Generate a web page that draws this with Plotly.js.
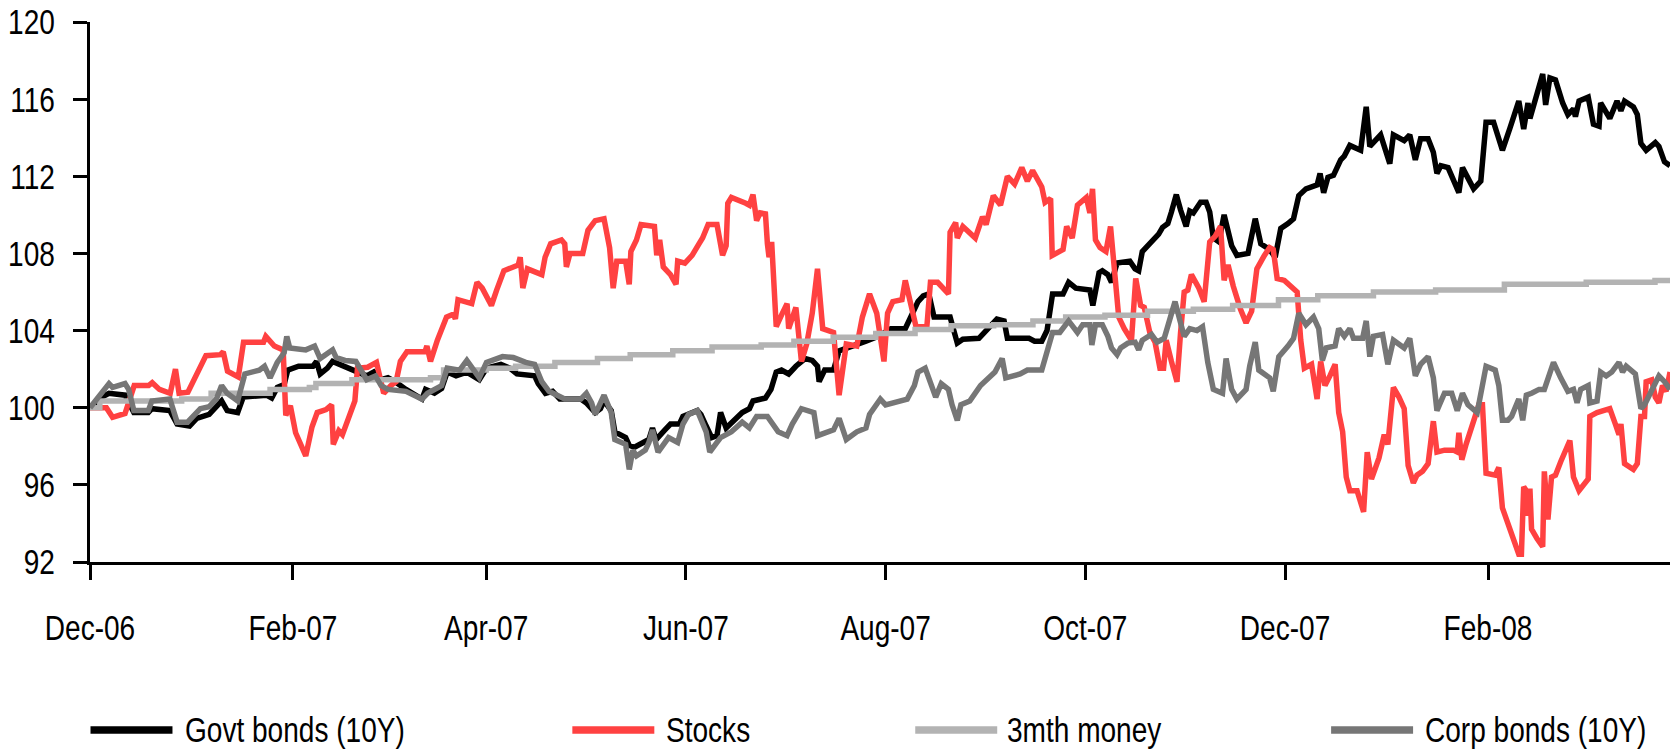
<!DOCTYPE html>
<html>
<head>
<meta charset="utf-8">
<script src="https://cdn.plot.ly/plotly-3.0.1.min.js"></script>
<style>
  html, body { margin: 0; padding: 0; background: #ffffff; }
  #chart { width: 1672px; height: 751px; }
</style>
</head>
<body>
<div id="chart"></div>
<script>
// ---------------- DATA (days after 1 Dec 2006, index values) ----------------
const baseDate = "2006-12-01";

const seriesNames = ["Govt bonds (10Y)", "Stocks", "3mth money", "Corp bonds (10Y)"];

const govtDays = [0,3.6,5.8,10.7,13.4,17.8,18.9,24.4,26.6,30.4,32.6,36.4,40.2,41.9,45.1,46.8,53.9,55.5,57.2,59.3,60.4,63.7,68.1,69.2,70.3,72.5,74.1,77.9,80.7,84.5,86.7,88.9,91,93.2,96.5,98.7,101.4,102.5,105.2,107.4,109.1,111.8,115.1,118.9,121.1,125.5,128.2,130.4,135.8,136.9,139.1,141.3,143.5,145,149.9,151.6,154.3,155.9,157,159.2,160.3,163.6,164.7,166.3,169.6,170.7,171.8,172.9,175.6,177.3,180,181.1,185.5,186.6,188.2,189.9,191.5,192.6,194.3,196.5,199.2,201.4,202.5,206.3,208,209.6,211.2,213.4,215.6,218.4,220.6,222.2,222.7,224.4,227.1,228.8,233.1,237,240.8,244.6,249,250.7,252.9,254.5,256.2,257.8,262.7,264.9,266.6,271.5,273.7,277,279.2,280.2,286.8,288.5,290.7,292.3,294,297.2,298.9,301.1,305.4,306.3,308.2,309.2,310.9,312,313.7,317.6,319.2,320.3,321.4,323.1,324.8,326.4,327.6,329.2,330.3,331.8,333.1,334.8,335.9,337,339.2,340.9,342,343.1,344.8,346.4,348.7,350.3,353.7,355.9,357.6,360.3,362,363.7,365.9,367.6,369.2,371.4,374.8,375.7,376.8,378.1,379.8,382,383.1,384.8,388.1,389.8,390.9,394.2,397,398.1,401.4,403.1,404.8,406.4,408.7,410.3,411.4,412.6,414.8,418.1,419.2,422.6,424.8,426.4,428.7,431.4,433.7,436.4,437.9,439.2,439.8,442,443.7,444.6,445.9,447.6,449.8,451.4,453.1,453.7,454.8,457.6,459.2,460.9,461.4,464.2,466.4,467.6,468.7,471.4,472.6,473.7,475.3,478.1,479.2,480.9,482.6];
const govtVals = [100,100.55,100.75,100.65,99.75,99.75,99.95,99.85,99.15,99.05,99.45,99.65,100.35,99.85,99.75,100.55,100.65,100.5,101.05,101.2,101.95,102.15,102.15,102.4,101.75,102.05,102.4,102.15,101.95,101.65,101.85,101.45,101.55,101.35,100.95,100.75,100.45,100.95,100.75,101.0,101.85,101.65,101.85,101.45,102.05,102.25,102.05,101.75,101.65,101.25,100.75,100.85,100.45,100.45,100.45,100.25,99.75,99.95,100.35,99.85,98.75,98.45,98.05,97.95,98.2,98.35,98.95,98.35,98.85,99.15,99.15,99.55,99.85,99.65,99.05,98.45,98.55,99.75,98.95,99.35,99.75,99.95,100.35,100.5,100.95,101.85,101.95,101.75,102.15,102.55,102.45,102.15,101.35,101.95,101.95,102.95,103.25,103.45,103.7,104.1,104.1,104.7,105.5,105.8,105.9,104.7,104.7,103.35,103.55,103.6,104.0,104.6,104.5,103.6,103.6,103.45,103.45,104.0,105.9,105.9,106.5,106.2,106.1,105.3,107.0,107.1,106.9,106.5,107.5,107.6,107.2,107.1,108.1,108.4,108.7,109.0,109.35,109.55,110.15,111.05,110.25,109.4,110.2,110.1,110.65,110.65,110.15,108.8,108.6,110.0,108.4,107.9,108.0,109.8,108.5,108.2,107.8,109.3,109.55,109.8,111.0,111.35,111.55,112.15,111.15,111.95,112.05,112.85,113.05,113.6,113.35,115.6,113.55,114.15,112.65,114.15,113.85,114.15,112.85,113.95,113.95,113.25,112.15,112.55,112.45,111.15,112.45,111.35,111.75,114.8,114.8,113.35,114.5,115.9,114.45,115.8,115.0,116.3,117.3,115.7,117.1,117.0,115.8,115.2,115.5,115.1,115.9,116.1,114.7,114.6,115.8,115.0,115.9,115.4,115.9,115.6,115.2,113.7,113.35,113.75,113.55,112.75,112.55];

const stockDays = [0,5,6.9,10.7,13.5,17.9,19,21.2,24.5,26.1,27.2,29.9,35.4,39.8,40.7,42,45.3,46.9,53,53.7,56.3,59,59.8,61.2,62.8,65.9,67.8,69.4,72.1,73.8,74.3,76,77.1,79.3,80.9,81.7,84.8,87.5,89.7,91.9,93.5,94.8,96.8,102.3,102.9,104,106.1,108.9,111,111.6,112.4,116.6,118.2,119.8,122.6,124.2,126.4,130.8,131.4,132.2,133.6,138,139,140.7,144,145,145.5,146.6,150.5,152.1,154.3,157,158.7,159.8,160.9,163.6,164.7,165.2,166.9,168.3,172.4,173.1,174,175.1,177.3,179,179.5,181.7,183.9,186,187.1,188.8,191.5,193.2,194.3,194.8,195.9,200.3,201.4,202.5,203.6,204.7,206.3,206.9,207.4,208.2,209.6,211.2,212.9,213.4,215.6,217.3,218.9,220.6,222.2,223.8,227.1,228.8,231,234.2,235.9,238.1,240.3,242.5,243.6,245.2,248,249,250.7,252.3,255.6,256.7,258.9,262.2,262.7,264.4,264.9,266.6,270.4,272.6,273.7,275.9,278.1,280.2,282.4,284.6,286.3,287.9,290.7,291.7,293.4,293.9,297.2,298.3,300,301.6,304.3,305.4,306.2,307.1,308.5,310.3,311.7,313.1,314.2,315.9,318.1,319.4,320.9,322,323.7,325.3,326.8,327.9,328.7,330.3,332,333.1,334.2,335.3,336.4,338.7,340.3,342,343.7,345.3,346.4,347.6,349.2,351.4,353.1,354.8,356.4,358.7,360.3,361.4,362.6,364.8,367.6,368.7,369.8,370.9,373.1,374.8,375.9,377.2,378.7,380.3,381.4,382.6,383.7,384.8,387,389,390.1,391.4,393.7,395.3,396.4,398.1,399.8,401.4,402.6,404.2,405.3,407,408.7,410.3,411.4,413.7,416.4,417.6,418.1,419,420.3,422,424.2,425.3,426.4,429.2,430.3,431.4,433.1,434.8,436.4,437.2,437.9,438.7,439.2,439.8,440.3,442,443.7,444.2,445.3,446.4,447.6,449.2,451.4,452,453.1,454.8,457.6,458.1,460.3,463.7,464.2,465.9,467,467.6,468.7,471.4,472.6,473.7,474.8,475.3,477,478.1,479.2,480.3,481.4,482.6];
const stockVals = [100,100,99.5,99.7,101.15,101.15,101.3,100.95,100.75,102.0,100.75,100.8,102.7,102.75,102.9,101.9,101.6,103.4,103.4,103.7,103.2,103.0,99.6,100.1,98.7,97.5,99.0,99.75,99.9,100.15,98.1,98.8,98.6,99.6,100.35,102.05,102.1,102.35,100.75,101.15,101.35,102.4,102.9,102.9,103.2,102.4,103.5,104.7,104.85,104.6,105.6,105.4,106.5,106.2,105.3,106.1,107.1,107.4,107.8,106.2,107.2,106.9,107.8,108.5,108.7,108.5,107.3,108.0,108.0,109.2,109.7,109.8,108.3,106.2,107.6,107.6,106.4,108.1,108.7,109.5,109.4,107.9,108.7,107.3,106.9,106.4,107.6,107.5,107.9,108.5,108.8,109.5,109.5,107.9,108.4,110.6,110.9,110.6,110.5,111.05,109.7,110.1,110.05,108.5,107.8,108.6,104.2,104.8,105.4,104.1,105.2,102.4,103.3,104.9,107.2,104.1,103.9,100.65,103.3,103.2,104.7,105.9,104.9,102.4,104.9,105.5,105.6,106.6,105.5,104.2,104.2,106.5,106.5,105.9,109.1,109.6,108.8,109.4,108.8,109.9,109.5,111.0,110.5,112.0,111.6,112.45,111.75,112.3,111.45,110.65,110.85,107.9,108.2,109.4,108.8,110.5,110.9,110.1,111.35,108.7,108.3,108.1,109.4,106.4,104.7,104.1,103.5,106.7,105.3,105.2,103.9,103.4,102.05,102.05,103.5,102.4,101.35,103.9,106.0,106.1,106.9,106.2,105.5,108.6,108.9,109.4,106.6,107.4,106.3,105.1,104.4,105.0,107.2,107.9,108.3,108.2,106.7,106.6,106.1,106.0,103.5,102.05,102.25,100.45,102.4,101.15,101.65,102.25,99.75,98.75,96.4,95.7,95.7,94.6,97.7,96.3,97.4,98.6,98.1,101.05,100.55,99.95,97.0,96.1,96.5,96.7,97.1,99.3,97.7,97.8,97.8,97.7,98.7,97.3,98.1,99.1,100.15,100.15,96.6,96.5,96.9,94.8,94.0,93.2,92.4,92.4,95.9,95.7,94.4,95.8,93.7,93.2,92.8,96.7,94.2,96.4,96.5,97.2,98.1,98.3,96.4,95.7,96.3,99.55,99.75,99.95,99.95,99.15,98.6,99.15,97.1,96.8,97.1,99.55,99.55,101.35,101.45,100.55,100.25,101.15,100.85,101.85];

const moneyDays = [0,3,28,37,55,67,69,80,104,108,121,130,142,155,165,178,190,205,215,227,240,252,263,276,288,298,310,323,337,349,363,375,392,411,432,457,478,482.6];
const moneyVals = [100.0,100.35,100.45,100.75,100.95,101.05,101.25,101.45,101.55,101.95,102.05,102.15,102.35,102.55,102.75,102.95,103.15,103.25,103.45,103.65,103.85,104.05,104.25,104.3,104.5,104.7,104.8,105.0,105.1,105.3,105.6,105.8,106.0,106.1,106.4,106.5,106.6,106.6];

const corpDays = [0,3.6,5.8,6.9,10.7,11.8,13.4,17.8,18.9,24.4,26.6,29.8,33.7,36.4,38.6,40.2,41.9,45.1,47.3,51.7,53.3,55,57.2,59.3,60.1,61,65.9,68.6,70.3,74.1,75.2,77.9,81.2,84.5,87.2,88.9,91,96.5,101.4,103.1,107.4,109.1,112.9,115.1,118.9,121.1,126,129.3,133.1,135.8,136.9,138,140.2,143.5,145,149.9,151.6,153.2,154.3,157,159.2,160.3,163.6,164.7,165.8,166.9,169.6,170.7,171.8,173.5,175.1,176.7,179.5,181.1,182.8,185.5,188.2,189.3,191.5,192.6,195.9,199.2,201.4,203.6,206.9,210.2,212.9,214.5,217.3,221.1,222.2,227.1,228.8,231,234.2,237,238.1,241.4,243,249.6,251.8,252.9,255.1,256.2,258.3,260,262.2,263.3,264.9,266,268.7,272,273.7,276.4,278.6,279.7,284.1,286.3,290.7,292.3,294,296.2,298.9,301.6,303.2,305.4,306,307.1,309.2,310.9,312,313.7,314.8,317,319.2,320.3,321.4,324.2,325.9,328.1,329.8,331.4,333.1,334.2,335.9,338.1,339.8,341.4,343.1,345.9,347,348.7,350.3,353.1,354.2,355.9,357,360.3,361.4,363.1,365.9,367.6,369.2,371.4,373.7,375.3,376.4,377.6,380.3,381.4,383.1,384.8,385.9,388.7,389.8,390.9,392,394.8,396.4,398.1,401.4,403.1,404.8,406.4,408.7,410.3,411.4,413.7,415.9,417.6,419.2,420.9,423.7,426.4,429.2,430.3,431.4,433.1,434.2,436.4,437.6,438.7,440.3,442.6,444.2,447,449.2,451.4,453.1,454.2,455.3,457.6,458.1,460.3,461.4,463.1,464.8,467,468.1,469.2,472,473.7,474.8,476.4,479.2,480.9,482.6];
const corpVals = [100,100.8,101.25,101.05,101.25,100.95,99.85,99.85,100.35,100.45,99.25,99.25,99.95,100.05,100.45,101.15,100.75,100.35,101.75,101.95,102.15,101.55,102.35,102.85,103.7,103.1,103.0,103.2,102.55,103.0,102.6,102.45,102.4,101.45,101.65,101.15,100.95,100.85,100.45,100.75,101.15,102.05,101.95,102.45,101.55,102.35,102.65,102.6,102.35,102.25,101.85,101.35,100.85,100.55,100.45,100.45,100.75,100.25,99.65,100.65,99.75,98.35,98.1,96.8,97.8,97.5,97.8,98.2,98.85,97.7,98.05,98.45,98.2,99.15,99.65,99.85,98.75,97.7,98.2,98.45,98.75,99.25,98.95,99.55,99.55,98.75,98.55,99.15,99.95,99.75,98.55,98.85,99.45,98.35,98.75,98.95,99.65,100.45,100.15,100.45,101.15,101.85,102.05,101.55,100.55,101.25,100.95,100.15,99.35,100.15,100.35,101.15,101.45,101.85,102.55,101.55,101.75,101.95,101.95,102.85,103.9,103.9,104.5,103.9,104.3,104.3,103.25,104.3,104.3,103.7,103.1,102.75,103.1,103.35,103.4,103.0,103.5,103.8,103.4,103.6,104.5,105.5,104.4,103.7,104.1,104.0,104.2,102.35,100.95,100.75,102.55,100.95,100.45,100.95,102.15,103.4,101.95,101.55,100.85,102.65,103.2,103.6,104.9,104.3,104.7,104.1,102.45,103.1,103.2,104.1,103.7,104.1,103.6,103.6,104.5,102.65,103.7,103.8,102.25,103.5,103.1,103.6,101.65,102.25,102.65,101.55,99.85,100.75,100.75,99.85,100.75,100.15,99.75,102.15,101.95,101.15,99.35,99.35,99.55,100.45,99.35,100.65,100.75,100.95,100.95,102.35,101.55,100.85,100.95,100.25,100.95,101.15,100.25,100.35,101.85,101.65,101.85,102.35,101.85,102.15,101.75,99.95,100.15,100.75,101.65,101.35,100.95];

const tickDates = ["2006-12-01","2007-02-01","2007-04-01","2007-06-01","2007-08-01","2007-10-01","2007-12-01","2008-02-01"];
const tickLabels = ["Dec-06","Feb-07","Apr-07","Jun-07","Aug-07","Oct-07","Dec-07","Feb-08"];
const yTicks = [92,96,100,104,108,112,116,120];

// ---------------- helpers ----------------
function toDates(days) {
  const b = Date.parse(baseDate + "T00:00:00Z");
  return days.map(d => {
    const t = new Date(b + d * 86400000);
    return t.toISOString().replace("T", " ").slice(0, 19);
  });
}

const FONT = "'Liberation Sans', Arial, sans-serif";
const FSIZE = 35.5;
const NARROW = 0.79;   // horizontal squeeze to imitate a narrow face
const colors = ["#000000", "#ff4141", "#b3b3b3", "#767676"];
const LW = 5.5;

const traces = [
  {x: toDates(govtDays), y: govtVals, name: seriesNames[0], line: {color: colors[0], width: LW}},
  {x: toDates(stockDays), y: stockVals, name: seriesNames[1], line: {color: colors[1], width: LW}},
  {x: toDates(moneyDays), y: moneyVals, name: seriesNames[2], line: {color: colors[2], width: LW, shape: "hv"}},
  {x: toDates(corpDays), y: corpVals, name: seriesNames[3], line: {color: colors[3], width: LW}}
].map(t => Object.assign({type: "scatter", mode: "lines", hoverinfo: "skip"}, t));

// plot geometry (pixels)
const W = 1672, H = 751;
const mL = 89.5, mR = 2, mT = 22, mB = 189;
const plotW = W - mL - mR, plotH = H - mT - mB;
const px2x = p => (p - mL) / plotW;
const py2y = p => (H - mB - p) / plotH;

// custom legend (long swatches like the original)
const legendY = 730;
const legendItems = [
  {x0: 90, x1: 172, tx: 183},
  {x0: 572, x1: 654, tx: 664},
  {x0: 915, x1: 997, tx: 1005},
  {x0: 1331, x1: 1413, tx: 1423}
];
const shapes = legendItems.map((it, i) => ({
  type: "line", xref: "paper", yref: "paper",
  x0: px2x(it.x0), x1: px2x(it.x1), y0: py2y(legendY), y1: py2y(legendY),
  line: {color: colors[i], width: 7.5}
}));
const annotations = legendItems.map((it, i) => ({
  xref: "paper", yref: "paper", x: px2x(it.tx), y: py2y(legendY),
  xanchor: "left", yanchor: "middle", showarrow: false,
  text: seriesNames[i], font: {family: FONT, size: FSIZE, color: "#000000"}
}));

const layout = {
  width: W, height: H,
  margin: {l: mL, r: mR, t: mT, b: mB},
  paper_bgcolor: "#ffffff", plot_bgcolor: "#ffffff",
  showlegend: false,
  xaxis: {
    type: "date",
    range: ["2006-12-01", "2008-03-27 14:00"],
    tickvals: tickDates, ticktext: tickLabels,
    ticks: "outside", ticklen: 15, tickwidth: 3, tickcolor: "#000000",
    showline: true, linewidth: 3, linecolor: "#000000",
    showgrid: false, zeroline: false,
    tickfont: {family: FONT, size: FSIZE, color: "#000000"},
    ticklabelstandoff: 17
  },
  yaxis: {
    range: [92, 120],
    tickvals: yTicks, ticktext: yTicks.map(String),
    ticks: "outside", ticklen: 14, tickwidth: 3, tickcolor: "#000000",
    showline: true, linewidth: 3, linecolor: "#000000",
    showgrid: false, zeroline: false,
    tickfont: {family: FONT, size: FSIZE, color: "#000000"},
    ticklabelstandoff: 11
  },
  shapes: shapes,
  annotations: annotations
};

// squeeze a text element horizontally around its anchor point (local coords)
function squeeze(el, mode) {
  const bb = el.getBBox();
  let ax;
  if (mode === "left") ax = bb.x;
  else {
    const anchor = el.getAttribute("text-anchor") || "start";
    ax = anchor === "middle" ? bb.x + bb.width / 2 : anchor === "end" ? bb.x + bb.width : bb.x;
  }
  const prev = el.getAttribute("transform") || "";
  el.setAttribute("transform", prev + " translate(" + ax + ",0) scale(" + NARROW + ",1) translate(" + (-ax) + ",0)");
}

Plotly.newPlot("chart", traces, layout, {staticPlot: true, displayModeBar: false}).then(gd => {
  gd.querySelectorAll(".xtick text, .ytick text").forEach(t => squeeze(t, "anchor"));
  gd.querySelectorAll(".annotation-text").forEach(t => squeeze(t, "left"));
});
</script>
</body>
</html>
